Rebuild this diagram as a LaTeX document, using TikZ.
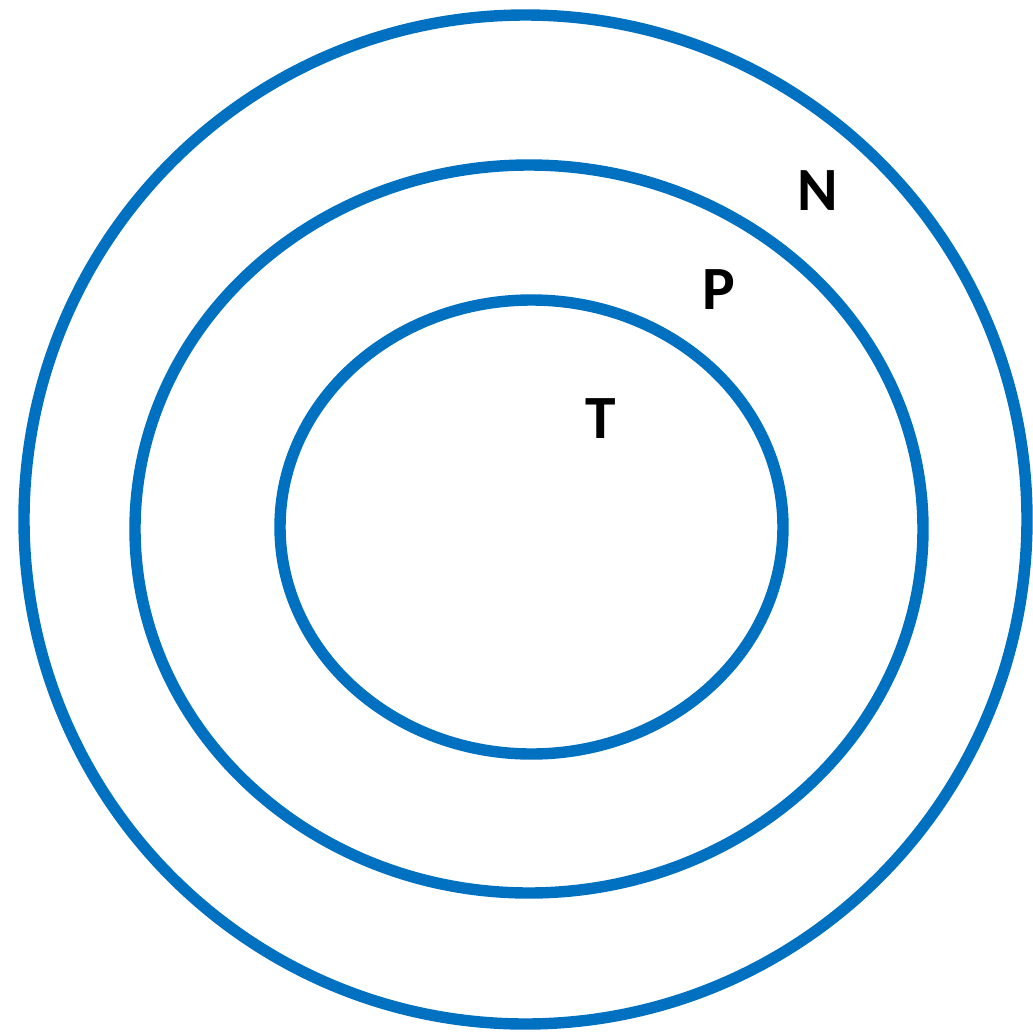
\documentclass[tikz,border=0pt]{standalone}
\usepackage{fontspec}
\setmainfont{Carlito}
\usepackage{xcolor}
\definecolor{ringblue}{RGB}{0,112,192}

\begin{document}
\begin{tikzpicture}[
    x=0.02cm, y=-0.02cm,
    ring/.style={draw=ringblue, line width=6.5pt},
    lbl/.style={font=\fontsize{35}{42}\selectfont\bfseries, inner sep=0pt}
  ]
  \useasboundingbox (0,0) rectangle (1032,1035);
  % three nested sets
  \draw[ring] (525.5,519.5) ellipse [x radius=501.5, y radius=504.5];
  \draw[ring] (529,529) ellipse [x radius=394, y radius=364];
  \draw[ring] (531.5,527) ellipse [x radius=251.5, y radius=227];
  \node[lbl] (labN) at (818,191) {N};
  \node[lbl] (labP) at (719,290) {P};
  \node[lbl] (labT) at (601,419) {T};
\end{tikzpicture}
\end{document}
